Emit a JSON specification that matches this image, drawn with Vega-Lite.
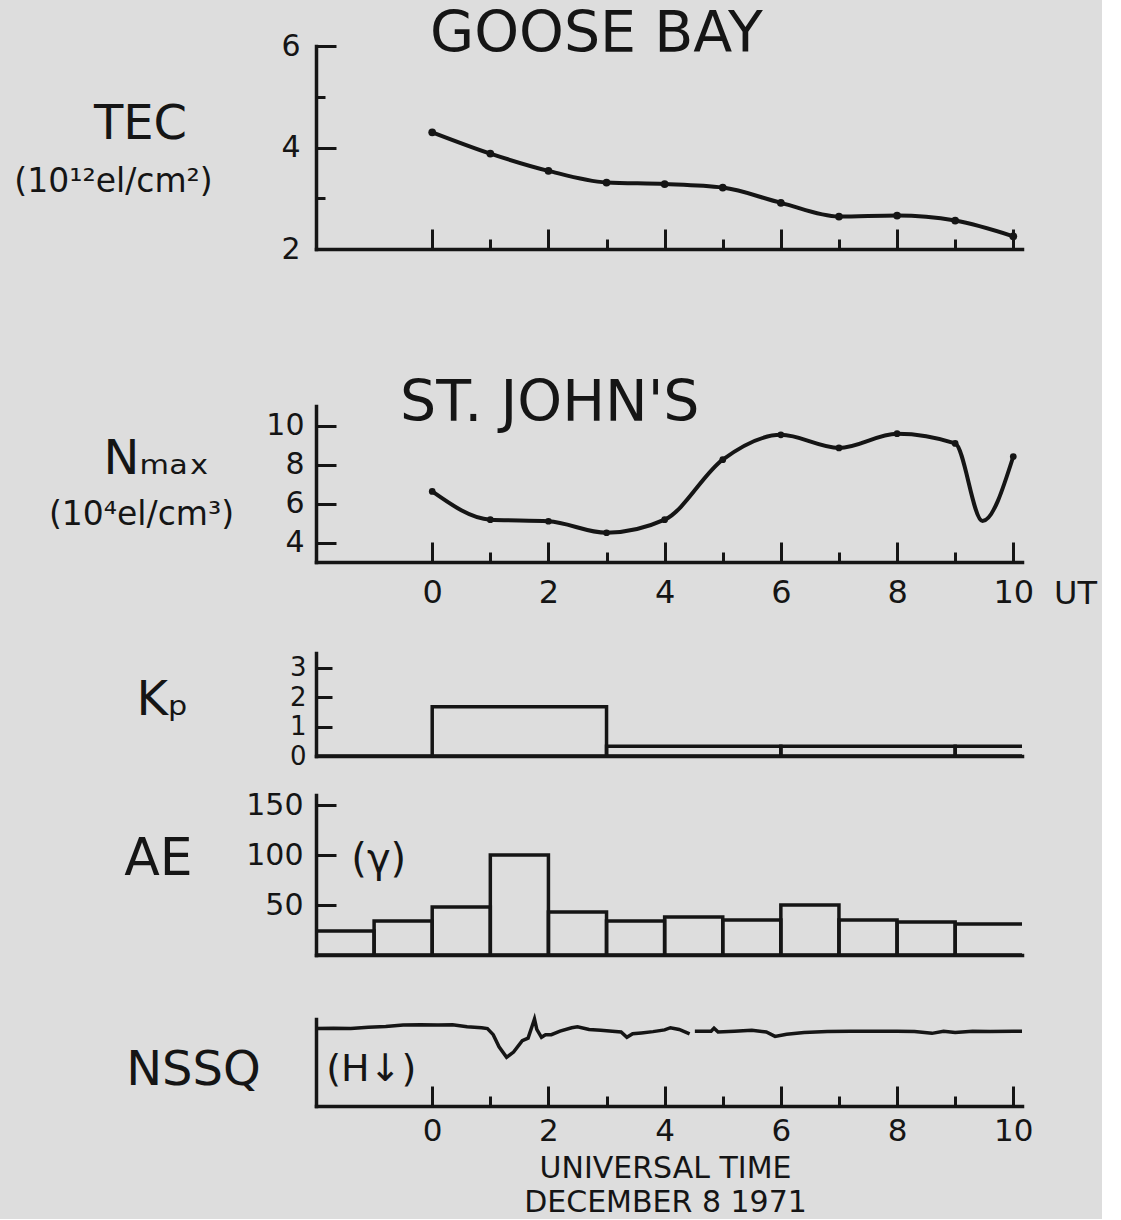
{
  "$schema": "https://vega.github.io/schema/vega-lite/v6.json",
  "background": "#dddddd",
  "padding": {"left": 13, "top": 6, "right": 5, "bottom": 2},
  "config": {
    "font": "DejaVu Sans",
    "view": {"stroke": null},
    "axis": {
      "grid": false,
      "domainColor": "#151515",
      "domainWidth": 3.5,
      "domainCap": "square",
      "tickColor": "#151515",
      "tickWidth": 3,
      "labelColor": "#151515",
      "labelFont": "DejaVu Sans",
      "labelFontSize": 30,
      "labelFlush": false,
      "labelOverlap": false,
      "labelBound": false,
      "titleFont": "DejaVu Sans",
      "titleFontWeight": "normal",
      "titleColor": "#151515",
      "titleAngle": 0
    },
    "title": {"font": "DejaVu Sans", "fontWeight": "normal", "color": "#151515"}
  },
  "datasets": {
    "tec": [
      {"t": 0, "v": 4.3}, {"t": 1, "v": 3.88}, {"t": 2, "v": 3.54}, {"t": 3, "v": 3.31},
      {"t": 4, "v": 3.28}, {"t": 5, "v": 3.21}, {"t": 6, "v": 2.91}, {"t": 7, "v": 2.64},
      {"t": 8, "v": 2.66}, {"t": 9, "v": 2.56}, {"t": 10, "v": 2.25}
    ],
    "nmax": [
      {"t": 0, "v": 6.62}, {"t": 1, "v": 5.17}, {"t": 2, "v": 5.09}, {"t": 3, "v": 4.5},
      {"t": 4, "v": 5.17}, {"t": 5, "v": 8.25}, {"t": 6, "v": 9.52}, {"t": 7, "v": 8.85},
      {"t": 8, "v": 9.58}, {"t": 9, "v": 9.08}, {"t": 9.47, "v": 5.1}, {"t": 10, "v": 8.41}
    ],
    "kp": [
      {"s": -3, "e": 0, "kp": 0}, {"s": 0, "e": 3, "kp": 1.67}, {"s": 3, "e": 6, "kp": 0.33},
      {"s": 6, "e": 9, "kp": 0.33}, {"s": 9, "e": 12, "kp": 0.33}
    ],
    "ae": [
      {"s": -2, "e": -1, "ae": 24}, {"s": -1, "e": 0, "ae": 34}, {"s": 0, "e": 1, "ae": 48},
      {"s": 1, "e": 2, "ae": 100}, {"s": 2, "e": 3, "ae": 43}, {"s": 3, "e": 4, "ae": 34},
      {"s": 4, "e": 5, "ae": 38}, {"s": 5, "e": 6, "ae": 35}, {"s": 6, "e": 7, "ae": 50},
      {"s": 7, "e": 8, "ae": 35}, {"s": 8, "e": 9, "ae": 33}, {"s": 9, "e": 11, "ae": 31}
    ],
    "nssq": [
      {"t": -2.0, "v": 89, "seg": 1}, {"t": -1.7, "v": 89.5, "seg": 1}, {"t": -1.4, "v": 89, "seg": 1},
      {"t": -1.1, "v": 90.5, "seg": 1}, {"t": -0.8, "v": 91.5, "seg": 1}, {"t": -0.5, "v": 93, "seg": 1},
      {"t": -0.2, "v": 93.5, "seg": 1}, {"t": 0.1, "v": 93, "seg": 1}, {"t": 0.35, "v": 93.5, "seg": 1},
      {"t": 0.6, "v": 91, "seg": 1}, {"t": 0.85, "v": 90, "seg": 1}, {"t": 0.95, "v": 89, "seg": 1},
      {"t": 1.05, "v": 82, "seg": 1}, {"t": 1.15, "v": 68, "seg": 1}, {"t": 1.28, "v": 56, "seg": 1},
      {"t": 1.4, "v": 62, "seg": 1}, {"t": 1.55, "v": 75, "seg": 1}, {"t": 1.65, "v": 78, "seg": 1},
      {"t": 1.72, "v": 92, "seg": 1}, {"t": 1.76, "v": 100, "seg": 1}, {"t": 1.8, "v": 88, "seg": 1},
      {"t": 1.88, "v": 79, "seg": 1}, {"t": 1.95, "v": 82, "seg": 1}, {"t": 2.05, "v": 82, "seg": 1},
      {"t": 2.2, "v": 86, "seg": 1}, {"t": 2.4, "v": 90, "seg": 1}, {"t": 2.5, "v": 91, "seg": 1},
      {"t": 2.7, "v": 88, "seg": 1}, {"t": 2.9, "v": 87, "seg": 1}, {"t": 3.1, "v": 86, "seg": 1},
      {"t": 3.25, "v": 85, "seg": 1}, {"t": 3.35, "v": 79, "seg": 1}, {"t": 3.45, "v": 83, "seg": 1},
      {"t": 3.6, "v": 84, "seg": 1}, {"t": 3.8, "v": 85.5, "seg": 1}, {"t": 4.0, "v": 87.5, "seg": 1},
      {"t": 4.1, "v": 90, "seg": 1}, {"t": 4.25, "v": 88, "seg": 1}, {"t": 4.43, "v": 83, "seg": 1},
      {"t": 4.52, "v": 86, "seg": 2}, {"t": 4.8, "v": 86, "seg": 2}, {"t": 4.85, "v": 89.5, "seg": 2},
      {"t": 4.92, "v": 85, "seg": 2}, {"t": 5.2, "v": 86, "seg": 2}, {"t": 5.5, "v": 87, "seg": 2},
      {"t": 5.75, "v": 85, "seg": 2}, {"t": 5.9, "v": 80, "seg": 2}, {"t": 6.1, "v": 82.5, "seg": 2},
      {"t": 6.4, "v": 84.5, "seg": 2}, {"t": 6.8, "v": 85.5, "seg": 2}, {"t": 7.2, "v": 86, "seg": 2},
      {"t": 7.6, "v": 86, "seg": 2}, {"t": 8.0, "v": 86, "seg": 2}, {"t": 8.3, "v": 85.5, "seg": 2},
      {"t": 8.6, "v": 83.5, "seg": 2}, {"t": 8.8, "v": 86, "seg": 2}, {"t": 9.0, "v": 84.5, "seg": 2},
      {"t": 9.3, "v": 86, "seg": 2}, {"t": 9.6, "v": 85.5, "seg": 2}, {"t": 10.0, "v": 86, "seg": 2},
      {"t": 10.15, "v": 86, "seg": 2}
    ],
    "aenote": [{"t": -0.92, "v": 95, "label": "(γ)"}],
    "hnote": [{"t": -1.05, "v": 41, "label": "(H↓)"}]
  },
  "bounds": "flush",
  "spacing": 39,
  "vconcat": [
    {
      "width": 706,
      "height": 203,
      "title": {"text": "GOOSE BAY", "anchor": "start", "frame": "group", "fontSize": 57, "baseline": "top", "dx": 114, "dy": 33, "offset": 0},
      "data": {"name": "tec"},
      "layer": [
        {
          "mark": {"type": "line", "interpolate": "monotone", "color": "#151515", "strokeWidth": 4},
          "encoding": {
            "x": {"field": "t", "type": "quantitative", "scale": {"domain": [-2, 10.15], "nice": false, "zero": false},
                  "axis": {"orient": "bottom", "values": [0, 2, 4, 6, 8, 10], "tickSize": -20, "labels": false, "title": null}},
            "y": {"field": "v", "type": "quantitative", "scale": {"domain": [2, 6], "nice": false, "zero": false},
                  "axis": {"orient": "left", "values": [2, 4, 6], "tickSize": -20, "labelPadding": 36, "title": "TEC", "titleFontSize": 48,
                           "titleX": -176, "titleY": 92, "titleAlign": "center", "titleBaseline": "alphabetic"}}
          }
        },
        {
          "mark": {"type": "point", "filled": true, "size": 60, "color": "#151515", "opacity": 1},
          "encoding": {
            "x": {"field": "t", "type": "quantitative",
                  "axis": {"orient": "bottom", "values": [1, 3, 5, 7, 9], "tickSize": -10, "labels": false, "domain": false, "title": null}},
            "y": {"field": "v", "type": "quantitative",
                  "axis": {"orient": "left", "values": [3, 5], "tickSize": -9, "labels": false, "domain": false, "title": "(10¹²el/cm²)", "titleFontSize": 33,
                           "titleX": -203, "titleY": 145, "titleAlign": "center", "titleBaseline": "alphabetic"}}
          }
        }
      ],
      "resolve": {"axis": {"x": "independent", "y": "independent"}}
    },
    {
      "width": 706,
      "height": 274,
      "title": {"text": "ST. JOHN'S", "anchor": "start", "frame": "group", "fontSize": 57, "baseline": "top", "dx": 84, "dy": 145, "offset": 0},
      "data": {"name": "nmax"},
      "layer": [
        {
          "mark": {"type": "line", "interpolate": "monotone", "color": "#151515", "strokeWidth": 4},
          "encoding": {
            "x": {"field": "t", "type": "quantitative", "scale": {"domain": [-2, 10.15], "nice": false, "zero": false},
                  "axis": {"orient": "bottom", "values": [0, 2, 4, 6, 8, 10], "tickSize": -20, "labelPadding": 35, "labelFontSize": 32, "labelBaseline": "top",
                           "title": "UT", "titleFontSize": 32, "titleX": 759, "titleY": 41, "titleAlign": "center", "titleBaseline": "alphabetic"}},
            "y": {"field": "v", "type": "quantitative", "scale": {"domain": [3, 11], "range": [274, 118], "nice": false, "zero": false},
                  "axis": {"orient": "left", "values": [4, 6, 8, 10], "tickSize": -20, "labelPadding": 32, "title": "Nₘₐₓ", "titleFontSize": 48,
                           "titleX": -160, "titleY": 185, "titleAlign": "center", "titleBaseline": "alphabetic"}}
          }
        },
        {
          "transform": [{"filter": "datum.t % 1 == 0"}],
          "mark": {"type": "point", "filled": true, "size": 45, "color": "#151515", "opacity": 1},
          "encoding": {
            "x": {"field": "t", "type": "quantitative",
                  "axis": {"orient": "bottom", "values": [1, 3, 5, 7, 9], "tickSize": -10, "labels": false, "domain": false, "title": null}},
            "y": {"field": "v", "type": "quantitative",
                  "axis": {"orient": "left", "ticks": false, "labels": false, "domain": false, "title": "(10⁴el/cm³)", "titleFontSize": 33,
                           "titleX": -175, "titleY": 236, "titleAlign": "center", "titleBaseline": "alphabetic"}}
          }
        }
      ],
      "resolve": {"axis": {"x": "independent", "y": "independent"}}
    },
    {
      "width": 706,
      "height": 155,
      "data": {"name": "kp"},
      "mark": {"type": "rect", "fillOpacity": 0, "stroke": "#151515", "strokeWidth": 3.5, "clip": true},
      "encoding": {
        "x": {"field": "s", "type": "quantitative", "scale": {"domain": [-2, 10.15], "nice": false, "zero": false},
              "axis": {"ticks": false, "labels": false, "title": null}},
        "x2": {"field": "e"},
        "y": {"field": "kp", "type": "quantitative", "scale": {"domain": [0, 3.5], "range": [155, 52], "nice": false, "zero": false},
              "axis": {"values": [0, 1, 2, 3], "tickSize": -16, "labelPadding": 26, "labelFontSize": 26, "title": "Kₚ", "titleFontSize": 48,
                       "titleX": -154, "titleY": 113, "titleAlign": "center", "titleBaseline": "alphabetic"}},
        "y2": {"datum": 0}
      }
    },
    {
      "width": 706,
      "height": 160,
      "layer": [
        {
          "data": {"name": "ae"},
          "mark": {"type": "rect", "fillOpacity": 0, "stroke": "#151515", "strokeWidth": 3.5, "clip": true},
          "encoding": {
            "x": {"field": "s", "type": "quantitative", "scale": {"domain": [-2, 10.15], "nice": false, "zero": false},
                  "axis": {"orient": "bottom", "ticks": false, "labels": false, "title": null}},
            "x2": {"field": "e"},
            "y": {"field": "ae", "type": "quantitative", "scale": {"domain": [0, 160], "nice": false, "zero": false},
                  "axis": {"orient": "left", "values": [50, 100, 150], "tickSize": -20, "labelPadding": 33, "title": "AE", "titleFontSize": 52,
                           "titleX": -158, "titleY": 79, "titleAlign": "center", "titleBaseline": "alphabetic"}},
            "y2": {"datum": 0}
          }
        },
        {
          "data": {"name": "aenote"},
          "mark": {"type": "text", "fontSize": 40, "color": "#151515", "align": "center", "baseline": "middle"},
          "encoding": {
            "x": {"field": "t", "type": "quantitative", "axis": null},
            "y": {"field": "v", "type": "quantitative", "axis": null},
            "text": {"field": "label"}
          }
        }
      ],
      "resolve": {"axis": {"x": "independent", "y": "independent"}}
    },
    {
      "width": 706,
      "height": 112,
      "layer": [
        {
          "data": {"name": "nssq"},
          "mark": {"type": "line", "color": "#151515", "strokeWidth": 3.5},
          "encoding": {
            "x": {"field": "t", "type": "quantitative", "scale": {"domain": [-2, 10.15], "nice": false, "zero": false},
                  "axis": {"orient": "bottom", "values": [0, 2, 4, 6, 8, 10], "tickSize": -20, "labelPadding": 30, "labelFontSize": 31, "labelBaseline": "top",
                           "title": ["UNIVERSAL TIME", "DECEMBER 8 1971"], "titleFontSize": 30, "titleLineHeight": 34,
                           "titleX": 349, "titleY": 71, "titleAlign": "center", "titleBaseline": "alphabetic"}},
            "y": {"field": "v", "type": "quantitative", "scale": {"domain": [0, 100], "range": [112, 25], "nice": false, "zero": false},
                  "axis": {"orient": "left", "ticks": false, "labels": false, "title": "NSSQ", "titleFontSize": 48,
                           "titleX": -123, "titleY": 90, "titleAlign": "center", "titleBaseline": "alphabetic"}},
            "detail": {"field": "seg", "type": "nominal"}
          }
        },
        {
          "data": {"name": "hnote"},
          "mark": {"type": "text", "fontSize": 38, "color": "#151515", "align": "center", "baseline": "middle"},
          "encoding": {
            "x": {"field": "t", "type": "quantitative",
                  "axis": {"orient": "bottom", "values": [1, 3, 5, 7, 9], "tickSize": -10, "labels": false, "domain": false, "title": null}},
            "y": {"field": "v", "type": "quantitative", "axis": null},
            "text": {"field": "label"}
          }
        }
      ],
      "resolve": {"axis": {"x": "independent", "y": "independent"}}
    }
  ]
}
